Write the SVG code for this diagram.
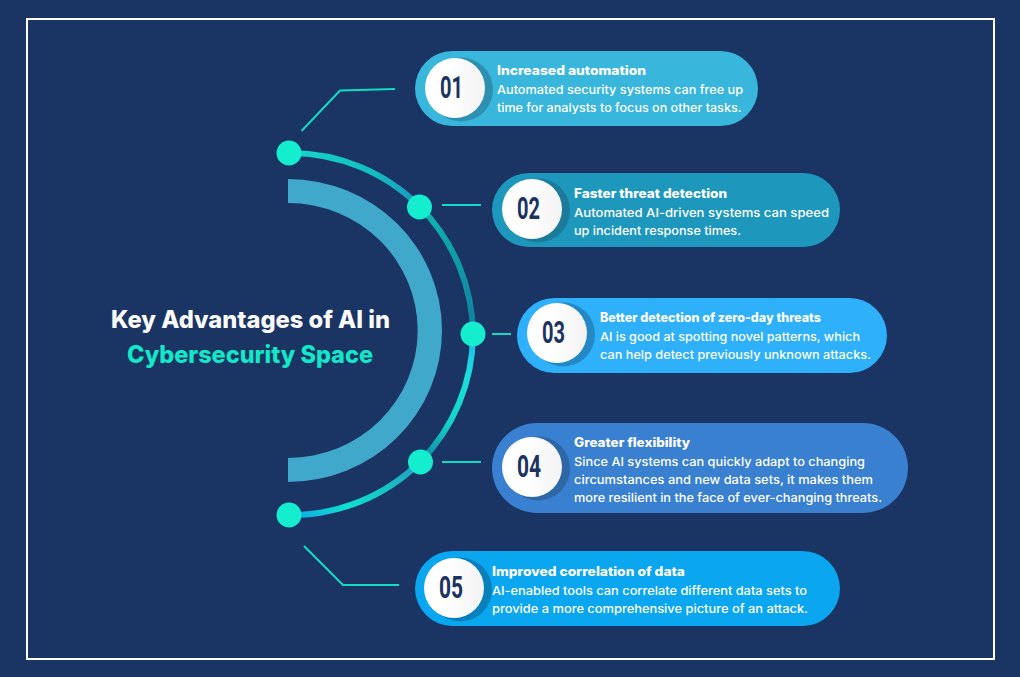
<svg xmlns="http://www.w3.org/2000/svg" width="1020" height="677" viewBox="0 0 1020 677">
<style>
text{font-family:"Inter","Noto Sans","Liberation Sans",sans-serif}
.h{font-size:12.5px;font-weight:800;fill:#fff}
.b{font-size:12.2px;font-weight:500;fill:#fff}
.n{font-family:"Roboto","Liberation Sans",sans-serif;font-size:31px;font-weight:700;fill:#1a3361}
.t{font-size:24px;font-weight:800}
.c{fill:none;stroke:#14dcc4;stroke-width:2}
.d{fill:#14eecf}
.w{fill:url(#disc)}
.a{fill:none;stroke-width:6}
</style>
<defs>
<linearGradient id="disc" x1="0" y1="0" x2="1" y2="0"><stop offset="0.4" stop-color="#fff"/><stop offset="1" stop-color="#f3f3f3"/></linearGradient>
<linearGradient id="g1" gradientUnits="userSpaceOnUse" x1="289" y1="151" x2="420" y2="207"><stop offset="0" stop-color="#14d8c8"/><stop offset="0.6" stop-color="#14bcc0"/><stop offset="1" stop-color="#1a94c0"/></linearGradient>
<linearGradient id="g2" gradientUnits="userSpaceOnUse" x1="420" y1="207" x2="473" y2="334"><stop offset="0" stop-color="#12b4b0"/><stop offset="1" stop-color="#0e7f9e"/></linearGradient>
<linearGradient id="g3" gradientUnits="userSpaceOnUse" x1="473" y1="334" x2="420" y2="462"><stop offset="0" stop-color="#22b8f0"/><stop offset="0.3" stop-color="#1adedc"/><stop offset="0.65" stop-color="#14d4c8"/><stop offset="1" stop-color="#0f7fa6"/></linearGradient>
<linearGradient id="g4" gradientUnits="userSpaceOnUse" x1="420" y1="462" x2="289" y2="516"><stop offset="0" stop-color="#2a98c8"/><stop offset="0.3" stop-color="#14c4c4"/><stop offset="0.6" stop-color="#12e0d0"/><stop offset="1" stop-color="#0ca4ec"/></linearGradient>
</defs>
<rect width="1020" height="677" fill="#1a3463"/>
<rect x="27" y="19" width="967" height="640" fill="none" stroke="#fff" stroke-width="2"/>

<g id="title">
<text class="t" x="111" y="328" fill="#fbfbfb" textLength="279" lengthAdjust="spacingAndGlyphs">Key Advantages of AI in</text>
<text class="t" x="127" y="363" fill="#14e6c8" textLength="246" lengthAdjust="spacingAndGlyphs">Cybersecurity Space</text>
</g>

<g id="arcs">
<path d="M288 179A154 151.500 0 0 1 288 482V458A129.700 127.500 0 0 0 288 203Z" fill="#3fa8cb"/>
<path class="a" stroke="url(#g1)" d="M289 153A183 183 0 0 1 420 207"/>
<path class="a" stroke="url(#g2)" d="M420 207A183 183 0 0 1 473 334"/>
<path class="a" stroke="url(#g3)" d="M473 334A183 183 0 0 1 420 462"/>
<path class="a" stroke="url(#g4)" d="M420 462A183 183 0 0 1 289 515"/>
</g>

<g id="connectors">
<polyline class="c" points="301.500,131 340,90.500 395,89"/>
<line class="c" x1="442" y1="205" x2="481" y2="205"/>
<line class="c" x1="492" y1="334" x2="511" y2="334"/>
<line class="c" x1="442" y1="462" x2="481" y2="462"/>
<polyline class="c" points="304,546 343,585 399,585"/>
</g>

<g id="dots">
<circle class="d" cx="289" cy="153" r="12.500"/>
<circle class="d" cx="419.500" cy="207" r="12.500"/>
<circle class="d" cx="473" cy="334" r="12.500"/>
<circle class="d" cx="420.500" cy="462" r="12.500"/>
<circle class="d" cx="289" cy="515" r="12.500"/>
</g>

<g id="node-01">
<rect x="415" y="51" width="343" height="75" rx="37.500" fill="#38b6db"/>
<circle cx="461" cy="89.500" r="32" fill="#2f8fb1"/>
<circle class="w" cx="455" cy="88" r="30"/>
<text class="n" x="440" y="98" textLength="23" lengthAdjust="spacingAndGlyphs">01</text>
<text class="h" x="497" y="75" textLength="149" lengthAdjust="spacingAndGlyphs">Increased automation</text>
<text class="b" x="497" y="94" textLength="246" lengthAdjust="spacingAndGlyphs">Automated security systems can free up</text>
<text class="b" x="497" y="112" textLength="244.500" lengthAdjust="spacingAndGlyphs">time for analysts to focus on other tasks.</text>
</g>

<g id="node-02">
<rect x="492" y="173" width="348" height="74" rx="37" fill="#1e97bd"/>
<circle cx="538" cy="210.500" r="32" fill="#1c7a9b"/>
<circle class="w" cx="532" cy="209" r="30"/>
<text class="n" x="517" y="219" textLength="23" lengthAdjust="spacingAndGlyphs">02</text>
<text class="h" x="574" y="198" textLength="153" lengthAdjust="spacingAndGlyphs">Faster threat detection</text>
<text class="b" x="574" y="217" textLength="255" lengthAdjust="spacingAndGlyphs">Automated AI-driven systems can speed</text>
<text class="b" x="574" y="235" textLength="167" lengthAdjust="spacingAndGlyphs">up incident response times.</text>
</g>

<g id="node-03">
<rect x="517" y="298" width="370" height="75" rx="37.500" fill="#2eb0fb"/>
<circle cx="563" cy="334.500" r="32" fill="#2488c4"/>
<circle class="w" cx="557" cy="333" r="30"/>
<text class="n" x="542" y="343" textLength="23" lengthAdjust="spacingAndGlyphs">03</text>
<text class="h" x="600" y="322" textLength="221" lengthAdjust="spacingAndGlyphs">Better detection of zero-day threats</text>
<text class="b" x="600" y="341" textLength="260" lengthAdjust="spacingAndGlyphs">AI is good at spotting novel patterns, which</text>
<text class="b" x="600" y="359" textLength="271" lengthAdjust="spacingAndGlyphs">can help detect previously unknown attacks.</text>
</g>

<g id="node-04">
<rect x="492" y="423" width="416" height="90" rx="45" fill="#3980d0"/>
<circle cx="538" cy="468.500" r="32" fill="#2d67a5"/>
<circle class="w" cx="532" cy="467" r="30"/>
<text class="n" x="517" y="477" textLength="24" lengthAdjust="spacingAndGlyphs">04</text>
<text class="h" x="574" y="447" textLength="116" lengthAdjust="spacingAndGlyphs">Greater flexibility</text>
<text class="b" x="574" y="466" textLength="291" lengthAdjust="spacingAndGlyphs">Since AI systems can quickly adapt to changing</text>
<text class="b" x="574" y="484" textLength="299" lengthAdjust="spacingAndGlyphs">circumstances and new data sets, it makes them</text>
<text class="b" x="574" y="502" textLength="308" lengthAdjust="spacingAndGlyphs">more resilient in the face of ever-changing threats.</text>
</g>

<g id="node-05">
<rect x="415" y="551" width="425" height="75" rx="37.500" fill="#0aa6ef"/>
<circle cx="460" cy="589.500" r="32" fill="#0880bb"/>
<circle class="w" cx="454" cy="588" r="30"/>
<text class="n" x="439" y="598" textLength="24" lengthAdjust="spacingAndGlyphs">05</text>
<text class="h" x="492" y="576" textLength="193" lengthAdjust="spacingAndGlyphs">Improved correlation of data</text>
<text class="b" x="492" y="595" textLength="315" lengthAdjust="spacingAndGlyphs">AI-enabled tools can correlate different data sets to</text>
<text class="b" x="492" y="613" textLength="316" lengthAdjust="spacingAndGlyphs">provide a more comprehensive picture of an attack.</text>
</g>
</svg>
